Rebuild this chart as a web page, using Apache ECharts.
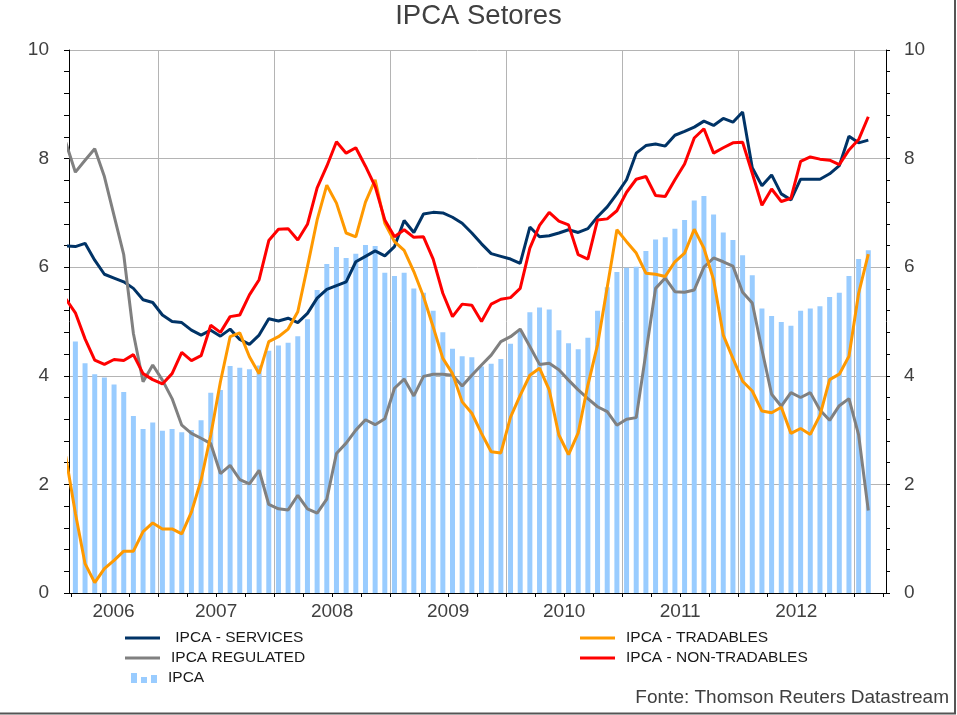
<!DOCTYPE html>
<html>
<head>
<meta charset="utf-8">
<script src="https://cdn.jsdelivr.net/npm/echarts@6/dist/echarts.min.js"></script>
<style>html,body{margin:0;padding:0;background:#fff}#c{width:957px;height:715px}</style>
</head>
<body>
<div id="c"></div>
<script>
// Monthly data, March 2006 .. February 2013 (12-month % change)
const firstMonthIndex = 2; // months since Jan 2006 of first value (March 2006)
const yearLabels = ['2006', '2007', '2008', '2009', '2010', '2011', '2012'];
const yTickLabels = ['0', '2', '4', '6', '8', '10'];

const ipca = [null,
  4.63, 4.23, 4.03, 3.97, 3.84, 3.70, 3.26, 3.02, 3.14,
  2.99, 3.02, 2.96, 3.00, 3.18, 3.69, 3.74, 4.18, 4.15, 4.12, 4.19, 4.46,
  4.56, 4.61, 4.73, 5.04, 5.58, 6.06, 6.37, 6.17, 6.25, 6.41, 6.39, 5.90,
  5.84, 5.90, 5.61, 5.53, 5.20, 4.80, 4.50, 4.36, 4.34, 4.17, 4.22, 4.31,
  4.59, 4.83, 5.17, 5.26, 5.22, 4.84, 4.60, 4.49, 4.70, 5.20, 5.63, 5.91,
  5.99, 6.01, 6.30, 6.51, 6.55, 6.71, 6.87, 7.23, 7.31, 6.97, 6.64, 6.50,
  6.22, 5.85, 5.24, 5.10, 4.99, 4.92, 5.20, 5.24, 5.28, 5.45, 5.53, 5.84,
  6.15, 6.31];

const services = [6.39,
  6.38, 6.44, 6.13, 5.87, 5.80, 5.73, 5.61, 5.40, 5.35,
  5.12, 5.00, 4.98, 4.84, 4.75, 4.84, 4.73, 4.86, 4.67, 4.58, 4.75, 5.05,
  5.01, 5.06, 4.98, 5.15, 5.43, 5.59, 5.66, 5.73, 6.10, 6.20, 6.30, 6.21,
  6.38, 6.86, 6.64, 6.98, 7.01, 7.00, 6.92, 6.81, 6.63, 6.43, 6.25, 6.20,
  6.15, 6.07, 6.74, 6.56, 6.58, 6.63, 6.69, 6.64, 6.71, 6.93, 7.11, 7.35,
  7.61, 8.10, 8.24, 8.27, 8.23, 8.43, 8.50, 8.58, 8.69, 8.61, 8.74, 8.67,
  8.86, 7.83, 7.50, 7.70, 7.35, 7.24, 7.62, 7.62, 7.62, 7.72, 7.87, 8.41,
  8.29, 8.34];

const regulated = [8.30,
  7.75, 7.97, 8.18, 7.67, 6.95, 6.23, 4.78, 3.89, 4.20,
  3.92, 3.58, 3.09, 2.94, 2.85, 2.75, 2.20, 2.35, 2.09, 2.01, 2.26, 1.63,
  1.55, 1.53, 1.80, 1.55, 1.47, 1.73, 2.57, 2.76, 3.00, 3.19, 3.10, 3.21,
  3.77, 3.94, 3.63, 3.99, 4.03, 4.03, 4.01, 3.81, 4.01, 4.20, 4.38, 4.63,
  4.72, 4.86, 4.54, 4.21, 4.23, 4.11, 3.92, 3.74, 3.58, 3.43, 3.34, 3.09,
  3.20, 3.23, 4.42, 5.61, 5.80, 5.55, 5.54, 5.58, 6.00, 6.17, 6.10, 6.02,
  5.54, 5.34, 4.48, 3.66, 3.44, 3.69, 3.60, 3.69, 3.37, 3.18, 3.45, 3.58,
  2.91, 1.52];

const tradables = [2.52,
  1.47, 0.54, 0.19, 0.45, 0.60, 0.77, 0.77, 1.13, 1.29,
  1.18, 1.18, 1.09, 1.49, 2.08, 2.91, 3.89, 4.72, 4.79, 4.35, 4.04, 4.63,
  4.72, 4.86, 5.18, 6.01, 6.87, 7.51, 7.18, 6.63, 6.56, 7.20, 7.61, 6.81,
  6.47, 6.31, 5.92, 5.46, 4.90, 4.32, 4.04, 3.52, 3.31, 2.94, 2.60, 2.58,
  3.24, 3.64, 4.01, 4.14, 3.74, 2.91, 2.55, 2.95, 3.83, 4.57, 5.63, 6.69,
  6.47, 6.26, 5.89, 5.87, 5.83, 6.10, 6.26, 6.70, 6.35, 5.77, 4.75, 4.32,
  3.90, 3.72, 3.35, 3.32, 3.42, 2.94, 3.03, 2.92, 3.27, 3.93, 4.03, 4.36,
  5.52, 6.24];

const nonTradables = [5.42,
  5.16, 4.68, 4.29, 4.21, 4.30, 4.28, 4.39, 4.04, 3.93,
  3.85, 4.04, 4.43, 4.28, 4.37, 4.93, 4.80, 5.09, 5.12, 5.49, 5.77, 6.49,
  6.70, 6.71, 6.50, 6.79, 7.46, 7.86, 8.31, 8.10, 8.20, 7.86, 7.49, 6.87,
  6.56, 6.69, 6.55, 6.56, 6.15, 5.52, 5.09, 5.32, 5.30, 5.00, 5.32, 5.41,
  5.44, 5.61, 6.35, 6.77, 7.01, 6.85, 6.78, 6.23, 6.15, 6.87, 6.89, 7.04,
  7.38, 7.62, 7.67, 7.32, 7.30, 7.61, 7.90, 8.38, 8.55, 8.10, 8.20, 8.29,
  8.30, 7.73, 7.14, 7.44, 7.21, 7.27, 7.95, 8.03, 7.99, 7.97, 7.89, 8.16,
  8.35, 8.77];

// x axis in "months since 1 Jan 2006"
const xMin = 2.79, xMax = 87.28;
const pos = i => firstMonthIndex + i + 0.45;
const toPairs = arr => arr.map((v, i) => [pos(i), v]).filter(p => p[1] !== null);

const quarterTicks = [];
for (let q = 3; q <= 87; q += 3) quarterTicks.push(q);
const yearLines = [];
for (let y = 12; y <= 84; y += 12) yearLines.push(y);
const yearLabelPos = yearLabels.map((_, k) => k === 0 ? (xMin + 12) / 2 : k * 12 + 6);

const FONT = '"Liberation Sans", Arial, sans-serif';
const chart = echarts.init(document.getElementById('c'), null, {renderer: 'canvas'});

const lineSeries = (name, data, color) => ({
  type: 'line', name, data: toPairs(data), xAxisIndex: 0, yAxisIndex: 0,
  symbol: 'none', showSymbol: false, clip: true, silent: true,
  lineStyle: {width: 3, color}, itemStyle: {color}, z: 3
});

const legendText = {
  fontSize: 15.5, color: '#1a1a1a', fontFamily: FONT, lineHeight: 20,
  rich: {s: {width: 6}}
};

chart.setOption({
  animation: false,
  backgroundColor: '#ffffff',
  title: {
    text: 'IPCA Setores', left: 'center', top: 2, padding: 0,
    textStyle: {fontSize: 27.5, fontWeight: 'normal', color: '#404040', fontFamily: FONT}
  },
  grid: {left: 69, right: 71, top: 50, bottom: 122, containLabel: false},
  xAxis: [
    {
      type: 'value', min: xMin, max: xMax, position: 'bottom',
      axisLine: {show: true, onZero: false, lineStyle: {color: '#000', width: 1}},
      axisTick: {show: true, inside: false, length: 4, customValues: quarterTicks, lineStyle: {color: '#000'}},
      axisLabel: {
        show: true, customValues: yearLabelPos, margin: 9,
        fontSize: 19, color: '#404040', fontFamily: FONT,
        formatter: v => yearLabels[Math.min(yearLabels.length - 1, Math.floor(v / 12))]
      },
      splitLine: {show: false}
    },
    {
      type: 'value', min: xMin, max: xMax, position: 'bottom',
      axisLine: {show: false},
      axisTick: {show: false, customValues: yearLines},
      axisLabel: {show: false},
      splitLine: {show: true, lineStyle: {color: '#b4b4b4', width: 1}}
    }
  ],
  yAxis: [
    {
      type: 'value', min: 0, max: 10, interval: 2, position: 'left',
      axisLine: {show: true, lineStyle: {color: '#000', width: 1}},
      axisTick: {show: true, inside: false, length: 5, lineStyle: {color: '#000'}},
      minorTick: {show: true, splitNumber: 5, length: 5, lineStyle: {color: '#000'}},
      axisLabel: {margin: 20, fontSize: 19, color: '#404040', fontFamily: FONT,
        formatter: v => yTickLabels[Math.round(v / 2)]},
      splitLine: {show: true, lineStyle: {color: '#b4b4b4', width: 1}}
    },
    {
      type: 'value', min: 0, max: 10, interval: 2, position: 'right',
      axisLine: {show: true, lineStyle: {color: '#000', width: 1}},
      axisTick: {show: true, inside: false, length: 4, lineStyle: {color: '#000'}},
      minorTick: {show: true, splitNumber: 5, length: 4, lineStyle: {color: '#000'}},
      axisLabel: {margin: 18, fontSize: 19, color: '#404040', fontFamily: FONT,
        formatter: v => yTickLabels[Math.round(v / 2)]},
      splitLine: {show: false}
    }
  ],
  legend: [
    {
      data: [' IPCA - SERVICES', 'IPCA REGULATED'], orient: 'vertical',
      left: 125, top: 628, padding: 0, itemGap: 0, itemWidth: 35, itemHeight: 3,
      icon: 'rect', selectedMode: false, textStyle: legendText,
      formatter: n => '{s|}' + n
    },
    {
      data: ['IPCA - TRADABLES', 'IPCA - NON-TRADABLES'], orient: 'vertical',
      left: 580, top: 628, padding: 0, itemGap: 0, itemWidth: 35, itemHeight: 3,
      icon: 'rect', selectedMode: false, textStyle: legendText,
      formatter: n => '{s|}' + n
    },
    {
      data: [{name: 'IPCA', icon: 'path://M0,4 L6,4 L6,14 L0,14 Z M10,8 L16,8 L16,14 L10,14 Z M20,6 L26,6 L26,14 L20,14 Z'}],
      orient: 'vertical', left: 131, top: 668, padding: 0, itemWidth: 26, itemHeight: 11,
      selectedMode: false, textStyle: legendText,
      formatter: n => '{s|}' + n
    }
  ],
  series: [
    {
      type: 'bar', name: 'IPCA', data: toPairs(ipca), xAxisIndex: 0, yAxisIndex: 0,
      barWidth: 5, itemStyle: {color: '#99CCFF'}, clip: true, silent: true, z: 2
    },
    lineSeries(' IPCA - SERVICES', services, '#003366'),
    lineSeries('IPCA REGULATED', regulated, '#808080'),
    lineSeries('IPCA - TRADABLES', tradables, '#FF9900'),
    lineSeries('IPCA - NON-TRADABLES', nonTradables, '#FF0000')
  ],
  graphic: [
    {type: 'text', right: 8, top: 688, z: 10,
      style: {text: 'Fonte: Thomson Reuters Datastream', font: '19px ' + FONT, fill: '#404040'}},
    {type: 'line', z: 10, shape: {x1: 955, y1: 0, x2: 955, y2: 714}, style: {stroke: '#555555', lineWidth: 2}},
    {type: 'line', z: 10, shape: {x1: 0, y1: 713.5, x2: 956, y2: 713.5}, style: {stroke: '#555555', lineWidth: 2}}
  ]
});
</script>
</body>
</html>
